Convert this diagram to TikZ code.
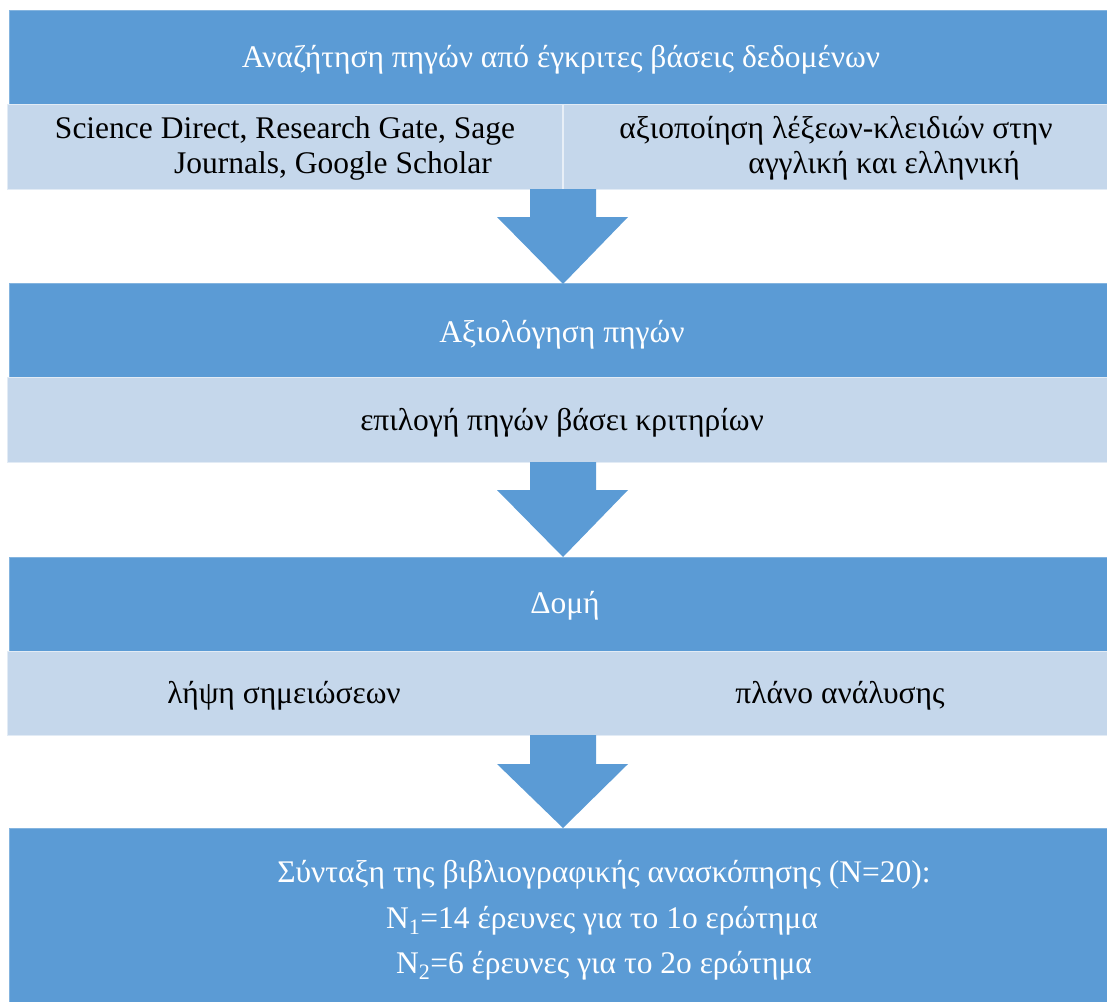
\documentclass[tikz,border=0pt]{standalone}
\usepackage{fontspec}
\setmainfont{Liberation Serif}
\definecolor{darkb}{HTML}{5B9BD5}
\definecolor{lightb}{HTML}{C5D7EB}
\begin{document}
\begin{tikzpicture}[x=1pt,y=-1pt,
  darkbox/.style={fill=darkb, draw=darkb!75!white, line width=0.8pt, inner sep=0pt, minimum width=1098pt},
  lightbox/.style={fill=lightb, draw=lightb!50!white, line width=1pt, inner sep=0pt, minimum width=1100pt},
  txt/.style={font=\fontsize{31.5}{35}\selectfont, anchor=base, inner sep=0pt},
  wtxt/.style={txt, text=white},
  btxt/.style={txt, text=black},
  blockarrow/.style={fill=darkb}]
\useasboundingbox (0,0) rectangle (1107,1001);
% boxes
\node[darkbox, minimum height=94pt] (d1) at (558,57) {};
\node[lightbox, minimum height=85pt] (l1) at (557,146.5) {};
\draw[lightb!40!white, line width=1.5pt] (563,104.5) -- (563,188.5);
\node[darkbox, minimum height=94pt] (d2) at (558,330) {};
\node[lightbox, minimum height=85pt] (l2) at (557,419.5) {};
\node[darkbox, minimum height=94pt] (d3) at (558,604) {};
\node[lightbox, minimum height=84pt] (l3) at (557,693) {};
\node[darkbox, minimum height=174pt] (d4) at (558,915) {};
% arrows
\fill[blockarrow] (530,189) -- (596,189) -- (596,217) -- (628,217) -- (563,284) -- (497,217) -- (530,217) -- cycle;
\fill[blockarrow] (530,462) -- (596,462) -- (596,490) -- (628,490) -- (563,557) -- (497,490) -- (530,490) -- cycle;
\fill[blockarrow] (530,735) -- (596,735) -- (596,764) -- (628,764) -- (563,828) -- (497,764) -- (530,764) -- cycle;
% texts
\node[wtxt] (t1) at (561,67) {Αναζήτηση πηγών από έγκριτες βάσεις δεδομένων};
\node[btxt] (s1a) at (285,138) {Science Direct, Research Gate, Sage};
\node[btxt] (s1b) at (333,173) {Journals, Google Scholar};
\node[btxt] (s1c) at (836,138) {αξιοποίηση λέξεων-κλειδιών στην};
\node[btxt] (s1d) at (884,173) {αγγλική και ελληνική};
\node[wtxt] (t2) at (562,342) {Αξιολόγηση πηγών};
\node[btxt] (s2) at (562,430) {επιλογή πηγών βάσει κριτηρίων};
\node[wtxt] (t3) at (565,613) {Δομή};
\node[btxt] (s3a) at (284,703) {λήψη σημειώσεων};
\node[btxt] (s3b) at (840,703) {πλάνο ανάλυσης};
\node[wtxt] (t4a) at (604,882) {Σύνταξη της βιβλιογραφικής ανασκόπησης (N=20):};
\node[wtxt] (t4b) at (602,928) {N\textsubscript{1}=14 έρευνες για το 1ο ερώτημα};
\node[wtxt] (t4c) at (604,973) {N\textsubscript{2}=6 έρευνες για το 2ο ερώτημα};
\end{tikzpicture}
\end{document}
